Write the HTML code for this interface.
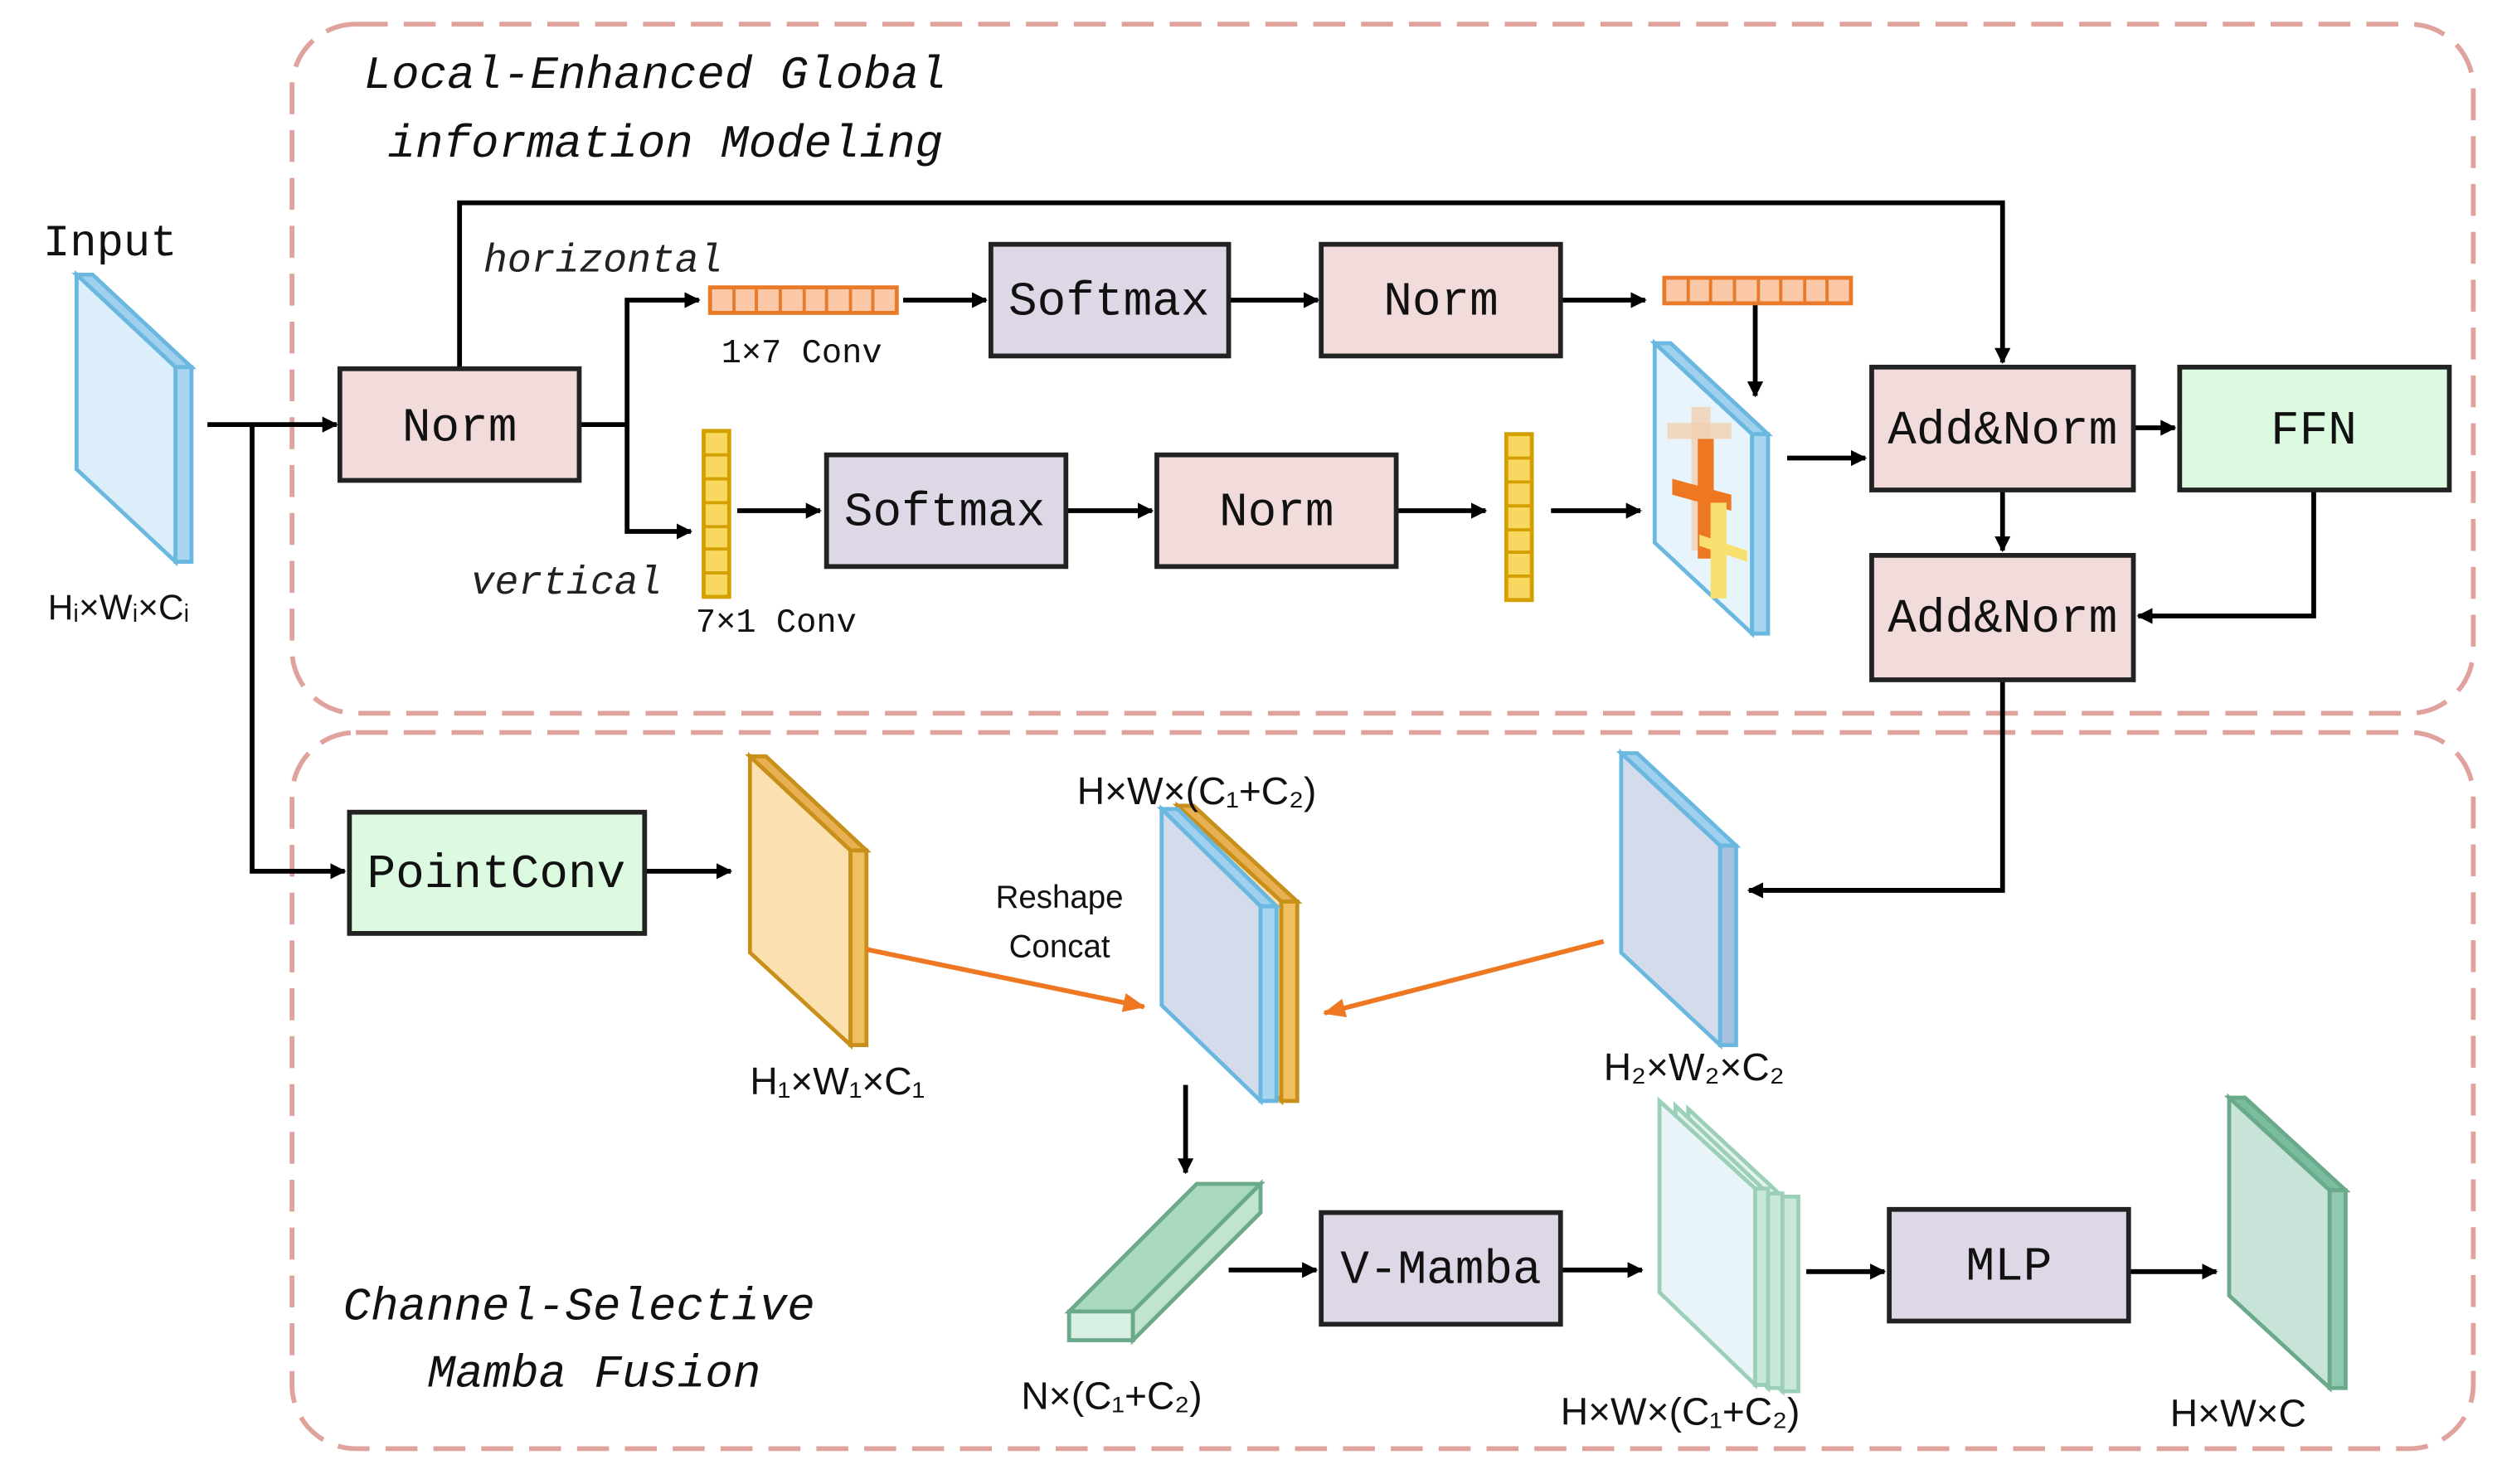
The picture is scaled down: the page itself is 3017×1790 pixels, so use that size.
<!DOCTYPE html>
<html><head><meta charset="utf-8"><style>
html,body{margin:0;padding:0;background:#fff;}
svg{display:block;}
text{font-family:"Liberation Sans","Noto Sans CJK SC",sans-serif;}
.b, .b text{font-family:"Liberation Mono",monospace;font-size:30px;fill:#111;}
.it{font-family:"Liberation Mono",monospace;font-style:italic;font-size:29px;fill:#111;}
.sr{font-family:"Liberation Mono",monospace;font-style:italic;font-size:25px;fill:#222;}
.lb{font-size:24px;fill:#111;font-family:"Liberation Sans","Noto Sans CJK SC",sans-serif;}
.cv{font-family:"Liberation Mono",monospace;font-size:21px;fill:#111;}
</style></head><body>
<svg width="3017" height="1790" viewBox="0 0 1568 930" xmlns="http://www.w3.org/2000/svg">
<defs>
<marker id="a" markerWidth="10" markerHeight="10" refX="9" refY="5" orient="auto" markerUnits="userSpaceOnUse"><path d="M0,0 L10,5 L0,10 z" fill="#000"/></marker>
<marker id="o" markerWidth="14" markerHeight="12" refX="13" refY="6" orient="auto" markerUnits="userSpaceOnUse"><path d="M0,0 L14,6 L0,12 z" fill="#ee7722"/></marker>
</defs>
<rect width="1568" height="930" fill="#fff"/>
<rect x="183" y="15" width="1367" height="432" rx="40" fill="none" stroke="#e0a29c" stroke-width="3" stroke-dasharray="20,10"/>
<rect x="183" y="459" width="1367" height="449" rx="40" fill="none" stroke="#e0a29c" stroke-width="3" stroke-dasharray="20,10"/>
<text class="it" x="228" y="55">Local-Enhanced Global</text>
<text class="it" x="243" y="98">information Modeling</text>
<text class="it" x="215" y="827">Channel-Selective</text>
<text class="it" x="268" y="869">Mamba Fusion</text>

<text class="b" x="27" y="160" style="font-size:28px">Input</text>
<polygon points="48,172 58,172 120,230 110,230" fill="#9fd0ee" stroke="#6ab8e0" stroke-width="2.5"/>
<polygon points="48,172 110,230 110,352 48,294" fill="#dceefa" stroke="#6ab8e0" stroke-width="2.5"/>
<polygon points="110,230 120,230 120,352 110,352" fill="#a8d6f0" stroke="#6ab8e0" stroke-width="2.5"/>
<text class="lb" x="30" y="388" style="font-size:22px">Hᵢ×Wᵢ×Cᵢ</text>

<g stroke="#000" stroke-width="3" fill="none">
<line x1="130" y1="266" x2="211" y2="266" marker-end="url(#a)"/>
<polyline points="158,266 158,546 216,546" marker-end="url(#a)"/>
<polyline points="288,231 288,127 1255,127 1255,227" marker-end="url(#a)"/>
<line x1="363" y1="266" x2="393" y2="266"/>
<polyline points="393,266 393,188 438,188" marker-end="url(#a)"/>
<polyline points="393,266 393,333 433,333" marker-end="url(#a)"/>
<line x1="566" y1="188" x2="618" y2="188" marker-end="url(#a)"/>
<line x1="770" y1="188" x2="826" y2="188" marker-end="url(#a)"/>
<line x1="979" y1="188" x2="1031" y2="188" marker-end="url(#a)"/>
<line x1="1100" y1="191" x2="1100" y2="248" marker-end="url(#a)"/>
<line x1="462" y1="320" x2="514" y2="320" marker-end="url(#a)"/>
<line x1="668" y1="320" x2="722" y2="320" marker-end="url(#a)"/>
<line x1="876" y1="320" x2="931" y2="320" marker-end="url(#a)"/>
<line x1="972" y1="320" x2="1028" y2="320" marker-end="url(#a)"/>
<line x1="1120" y1="287" x2="1169" y2="287" marker-end="url(#a)"/>
<line x1="1337" y1="268" x2="1363" y2="268" marker-end="url(#a)"/>
<line x1="1255" y1="307" x2="1255" y2="345" marker-end="url(#a)"/>
<polyline points="1450,307 1450,386 1340,386" marker-end="url(#a)"/>
<polyline points="1255,426 1255,558 1096,558" marker-end="url(#a)"/>
<line x1="405" y1="546" x2="458" y2="546" marker-end="url(#a)"/>
<line x1="743" y1="680" x2="743" y2="735" marker-end="url(#a)"/>
<line x1="770" y1="796" x2="825" y2="796" marker-end="url(#a)"/>
<line x1="978" y1="796" x2="1029" y2="796" marker-end="url(#a)"/>
<line x1="1132" y1="797" x2="1181" y2="797" marker-end="url(#a)"/>
<line x1="1335" y1="797" x2="1389" y2="797" marker-end="url(#a)"/>
</g>

<g stroke="#222" stroke-width="3">
<rect x="213" y="231" width="150" height="70" fill="#f2dcdb"/>
<rect x="621" y="153" width="149" height="70" fill="#ddd7e6"/>
<rect x="828" y="153" width="150" height="70" fill="#f2dcdb"/>
<rect x="518" y="285" width="150" height="70" fill="#ddd7e6"/>
<rect x="725" y="285" width="150" height="70" fill="#f2dcdb"/>
<rect x="1173" y="230" width="164" height="77" fill="#f2dcdb"/>
<rect x="1366" y="230" width="169" height="77" fill="#dcfae0"/>
<rect x="1173" y="348" width="164" height="78" fill="#f2dcdb"/>
<rect x="219" y="509" width="185" height="76" fill="#dcfae0"/>
<rect x="828" y="760" width="150" height="70" fill="#ddd7e6"/>
<rect x="1184" y="758" width="150" height="70" fill="#ddd7e6"/>
</g>
<g class="b" text-anchor="middle">
<text x="288" y="276">Norm</text>
<text x="695" y="197">Softmax</text>
<text x="903" y="197">Norm</text>
<text x="592" y="329">Softmax</text>
<text x="800" y="329">Norm</text>
<text x="1255" y="278">Add&amp;Norm</text>
<text x="1450" y="278">FFN</text>
<text x="1255" y="396">Add&amp;Norm</text>
<text x="311" y="556">PointConv</text>
<text x="903" y="804">V-Mamba</text>
<text x="1259" y="802">MLP</text>
</g>

<text class="sr" x="303" y="170">horizontal</text>
<text class="sr" x="295" y="372">vertical</text>

<g stroke="#e87a2a" stroke-width="2.5" fill="#fbc9a8">
<rect x="445" y="180" width="117" height="16"/>
<rect x="1043" y="174" width="117" height="16"/>
</g>
<g stroke="#e87a2a" stroke-width="2">
<path d="M460,180v16M474,180v16M489,180v16M504,180v16M518,180v16M533,180v16M547,180v16"/>
<path d="M1058,174v16M1072,174v16M1087,174v16M1102,174v16M1116,174v16M1131,174v16M1145,174v16"/>
</g>
<text class="cv" x="452" y="227">1×7 Conv</text>
<g stroke="#d4a000" stroke-width="2.5" fill="#f8d860">
<rect x="441" y="270" width="16" height="104"/>
<rect x="944" y="272" width="16" height="104"/>
</g>
<g stroke="#d4a000" stroke-width="2">
<path d="M441,285h16M441,300h16M441,315h16M441,330h16M441,344h16M441,359h16"/>
<path d="M944,287h16M944,302h16M944,317h16M944,332h16M944,346h16M944,361h16"/>
</g>
<text class="cv" x="436" y="396">7×1 Conv</text>

<polygon points="1037,215 1047,215 1108,272 1098,272" fill="#9fd0ee" stroke="#6ab8e0" stroke-width="2.5"/>
<polygon points="1037,215 1098,272 1098,397 1037,340" fill="#e8f4fc" stroke="#6ab8e0" stroke-width="2.5"/>
<polygon points="1098,272 1108,272 1108,397 1098,397" fill="#a8d6f0" stroke="#6ab8e0" stroke-width="2.5"/>
<rect x="1060" y="255" width="12" height="90" fill="#f0d0b0" opacity="0.8"/>
<rect x="1045" y="265" width="40" height="10" fill="#f0d0b0" opacity="0.8"/>
<rect x="1064" y="275" width="10" height="75" fill="#ee7722"/>
<polygon points="1048,300 1085,310 1085,320 1048,310" fill="#ee7722"/>
<rect x="1072" y="315" width="10" height="60" fill="#f8e070"/>
<polygon points="1065,335 1095,345 1095,352 1065,342" fill="#f8e070"/>

<polygon points="470,474 480,474 543,533 533,533" fill="#e8b050" stroke="#c8901a" stroke-width="2.5"/>
<polygon points="470,474 533,533 533,655 470,597" fill="#fbe0b0" stroke="#c8901a" stroke-width="2.5"/>
<polygon points="533,533 543,533 543,655 533,655" fill="#f0c060" stroke="#c8901a" stroke-width="2.5"/>
<text class="lb" x="470" y="686">H₁×W₁×C₁</text>

<polygon points="738,505 748,505 813,565 803,565" fill="#e8b050" stroke="#c8901a" stroke-width="2.5"/>
<polygon points="738,505 803,565 803,690 738,630" fill="#fbe0b0" stroke="#c8901a" stroke-width="2.5"/>
<polygon points="803,565 813,565 813,690 803,690" fill="#f0c060" stroke="#c8901a" stroke-width="2.5"/>
<polygon points="728,507 738,507 800,568 790,568" fill="#9fd0ee" stroke="#6ab8e0" stroke-width="2.5"/>
<polygon points="728,507 790,568 790,690 728,630" fill="#d4dcec" stroke="#6ab8e0" stroke-width="2.5"/>
<polygon points="790,568 800,568 800,690 790,690" fill="#a8d6f0" stroke="#6ab8e0" stroke-width="2.5"/>
<text class="lb" x="675" y="504">H×W×(C₁+C₂)</text>
<text class="lb" x="664" y="569" text-anchor="middle" style="font-size:20px">Reshape</text>
<text class="lb" x="664" y="600" text-anchor="middle" style="font-size:20px">Concat</text>

<polygon points="1016,472 1026,472 1088,530 1078,530" fill="#9fd0ee" stroke="#6ab8e0" stroke-width="2.5"/>
<polygon points="1016,472 1078,530 1078,655 1016,597" fill="#d4dcec" stroke="#6ab8e0" stroke-width="2.5"/>
<polygon points="1078,530 1088,530 1088,655 1078,655" fill="#a8c0e0" stroke="#6ab8e0" stroke-width="2.5"/>
<text class="lb" x="1005" y="677">H₂×W₂×C₂</text>

<line x1="543" y1="595" x2="717" y2="631" stroke="#ee7722" stroke-width="3" marker-end="url(#o)"/>
<line x1="1005" y1="590" x2="830" y2="635" stroke="#ee7722" stroke-width="3" marker-end="url(#o)"/>

<polygon points="670,822 750,742 790,742 710,822" fill="#a8d8c0" stroke="#6aaa8a" stroke-width="2.5"/>
<polygon points="670,822 710,822 710,840 670,840" fill="#d8f0e4" stroke="#6aaa8a" stroke-width="2.5"/>
<polygon points="710,822 790,742 790,760 710,840" fill="#c0e4d0" stroke="#6aaa8a" stroke-width="2.5"/>
<text class="lb" x="640" y="883">N×(C₁+C₂)</text>

<g stroke="#9ccfb8" stroke-width="2.5">
<polygon points="1058,695 1117,750 1117,872 1058,815" fill="#e4f4ec"/>
<polygon points="1117,750 1127,750 1127,872 1117,872" fill="#c8e8d8"/>
<polygon points="1050,693 1108,748 1108,870 1050,813" fill="#e4f4ec"/>
<polygon points="1108,748 1117,748 1117,870 1108,870" fill="#c8e8d8"/>
<polygon points="1040,690 1100,745 1100,868 1040,810" fill="#e8f4f8"/>
<polygon points="1100,745 1108,745 1108,868 1100,868" fill="#c8e8d8"/>
</g>
<text class="lb" x="978" y="893">H×W×(C₁+C₂)</text>

<polygon points="1397,688 1407,688 1470,746 1460,746" fill="#7abca0" stroke="#6aaa8a" stroke-width="2.5"/>
<polygon points="1397,688 1460,746 1460,870 1397,812" fill="#c8e4d8" stroke="#6aaa8a" stroke-width="2.5"/>
<polygon points="1460,746 1470,746 1470,870 1460,870" fill="#90c8b0" stroke="#6aaa8a" stroke-width="2.5"/>
<text class="lb" x="1360" y="894">H×W×C</text>
</svg>
</body></html>
